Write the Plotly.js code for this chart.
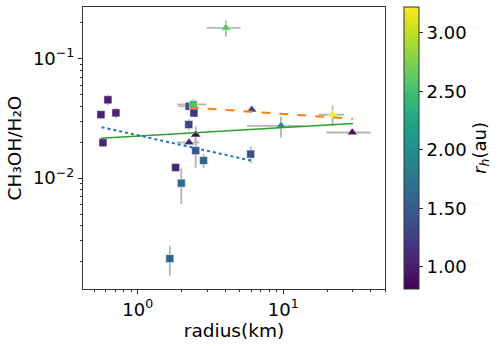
<!DOCTYPE html>
<html>
<head>
<meta charset="utf-8">
<script src="https://cdn.plot.ly/plotly-3.0.1.min.js"></script>
<style>
  html, body { margin: 0; padding: 0; background: white; }
  #chart { width: 499px; height: 346px; }
</style>
</head>
<body>
<div id="chart"></div>
<script>
// Squares
const sqRadius = [0.558, 0.623, 0.707, 0.576, 1.82, 1.99, 1.66, 2.50, 2.83, 5.97, 2.25, 2.43, 2.24, 2.41];
const sqRatio = [0.0340, 0.0453, 0.0352, 0.0198, 0.01227, 0.00908, 0.00212, 0.0170, 0.01406, 0.0159, 0.0400, 0.0351, 0.0281, 0.0414];
const sqRh = [1.02, 1.0, 1.05, 1.05, 1.05, 1.65, 1.6, 1.41, 1.6, 1.4, 1.4, 1.17, 1.3, 2.5];
const sqRatioErr = [0.002, 0.0045, 0.0035, 0, 0.001, 0.003, 0.0006, 0.0048, 0.0019, 0.0025, 0, 0, 0.003, 0.0045];
const sqRadiusErr = [0, 0, 0, 0, 0, 0, 0, 0, 0, 0, 0.35, 0, 0, 0.55];

// Triangles
const trRadius = [4.03, 2.50, 2.25, 6.07, 9.64, 21.8, 29.8];
const trRatio = [0.181, 0.0231, 0.0199, 0.0374, 0.0274, 0.034, 0.0241];
const trRh = [2.6, 0.85, 1.05, 1.25, 2.0, 3.2, 0.9];
const trRadiusErr = [1.05, 0, 0.4, 0, 4.0, 4.3, 10];
const trRatioErr = [0.028, 0.004, 0, 0, 0.0055, 0.0064, 0];

// Fit lines
const orangeX = [2.27, 30.1], orangeY = [0.0391, 0.0314];
const greenX = [0.556, 30.1], greenY = [0.0216, 0.0287];
const blueX = [0.564, 5.97], blueY = [0.0267, 0.01406];

// Ticks
const xMajor = [1, 10], xMajorText = ['10<sup>0</sup>', '10<sup>1</sup>'];
const yMajor = [0.01, 0.1], yMajorText = ['10<sup>\u22122</sup>', '10<sup>\u22121</sup>'];
const xMinor = [0.5, 0.6, 0.7, 0.8, 0.9, 2, 3, 4, 5, 6, 7, 8, 9, 20, 30, 40, 50];
const yMinor = [0.002, 0.003, 0.004, 0.005, 0.006, 0.007, 0.008, 0.009,
  0.02, 0.03, 0.04, 0.05, 0.06, 0.07, 0.08, 0.09, 0.2];
const rhTicks = [1.0, 1.5, 2.0, 2.5, 3.0];

const errGray = '#b4b4b4';

const errBars = (arr) => ({ type: 'data', array: arr, color: errGray, thickness: 1.8, width: 0 });

const traces = [
  {
    x: sqRadius, y: sqRatio, type: 'scatter', mode: 'markers',
    error_y: errBars(sqRatioErr), error_x: errBars(sqRadiusErr),
    marker: { symbol: 'square', size: 8, color: sqRh, coloraxis: 'coloraxis',
      line: { color: 'rgba(255,255,255,0.5)', width: 1 } },
    showlegend: false
  },
  {
    x: trRadius, y: trRatio, type: 'scatter', mode: 'markers',
    error_y: errBars(trRatioErr), error_x: errBars(trRadiusErr),
    marker: { symbol: 'triangle-up', size: 9, color: trRh, coloraxis: 'coloraxis',
      line: { color: 'rgba(255,255,255,0.5)', width: 1 } },
    showlegend: false
  },
  {
    x: orangeX, y: orangeY, type: 'scatter', mode: 'lines',
    line: { color: '#ff7f0e', width: 2, dash: 'dash' }, showlegend: false
  },
  {
    x: greenX, y: greenY, type: 'scatter', mode: 'lines',
    line: { color: '#2ca02c', width: 1.6 }, showlegend: false
  },
  {
    x: blueX, y: blueY, type: 'scatter', mode: 'lines',
    line: { color: '#1f77b4', width: 2, dash: 'dot' }, showlegend: false
  }
];

const axisCommon = {
  showgrid: false, zeroline: false,
  showline: true, mirror: true, linecolor: '#333', linewidth: 1,
  ticks: 'outside', ticklen: 4, tickcolor: '#333',
  tickfont: { size: 18, color: 'black' }
};

const layout = {
  width: 499, height: 346,
  margin: { l: 83, r: 113, t: 7, b: 57 },
  paper_bgcolor: 'white', plot_bgcolor: 'white',
  font: { family: 'DejaVu Sans, sans-serif', color: 'black' },
  xaxis: Object.assign({}, axisCommon, {
    type: 'log', range: [Math.log10(0.42), Math.log10(50)],
    tickmode: 'array', tickvals: xMajor, ticktext: xMajorText,
    minor: { tickmode: 'array', tickvals: xMinor, ticks: 'outside', ticklen: 2, tickcolor: '#333' },
    title: { text: 'radius(km)', font: { size: 18.5 }, standoff: 2 }
  }),
  yaxis: Object.assign({}, axisCommon, {
    type: 'log', range: [Math.log10(0.00118), Math.log10(0.271)],
    tickmode: 'array', tickvals: yMajor, ticktext: yMajorText,
    minor: { tickmode: 'array', tickvals: yMinor, ticks: 'outside', ticklen: 2, tickcolor: '#333' },
    title: { text: 'CH\u2083OH/H\u2082O', font: { size: 18.5 }, standoff: 6 }
  }),
  coloraxis: {
    colorscale: 'Viridis', cmin: 0.81, cmax: 3.22,
    colorbar: {
      thickness: 15, thicknessmode: 'pixels',
      len: 1, lenmode: 'fraction', y: 0.5, yanchor: 'middle',
      x: 1.0594, xanchor: 'left', xpad: 0, ypad: 0,
      outlinewidth: 1, outlinecolor: '#333',
      ticks: 'outside', ticklen: 4, tickcolor: '#333',
      ticklabelstandoff: -9,
      tickmode: 'array', tickvals: rhTicks, tickformat: '.2f',
      tickfont: { size: 18 },
      title: { text: '<i>r</i><sub><i>h</i></sub>(au)', side: 'right', font: { size: 18 } }
    }
  }
};

Plotly.newPlot('chart', traces, layout, { displayModeBar: false, staticPlot: true });
</script>
</body>
</html>
